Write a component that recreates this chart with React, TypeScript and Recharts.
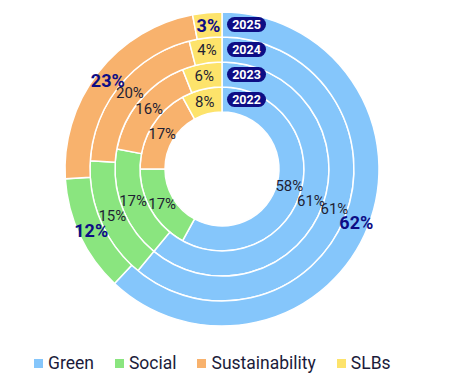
import { PieChart, Pie, Cell, Legend } from "recharts";

const categories = ["Green", "Social", "Sustainability", "SLBs"];
const colors = ["#85c6fb", "#8ae57f", "#f8b26d", "#fde36b"];
const years = ["2022", "2023", "2024", "2025"];
const v2022 = [58, 17, 17, 8];
const v2023 = [61, 17, 16, 6];
const v2024 = [61, 15, 20, 4];
const v2025 = [62, 12, 23, 3];

const series = [v2022, v2023, v2024, v2025];
const NAVY = "#0d0d85";
const RINGS = [[57, 82], [82, 107], [107, 132], [132, 157]];
const RAD = Math.PI / 180;
const FONT = "Roboto, 'Open Sans', sans-serif";

function makeLabel(year: string, bold: boolean) {
  return (p: any) => {
    const { cx, cy, midAngle, innerRadius, outerRadius, value, index } = p;
    const r = (innerRadius + outerRadius) / 2;
    const x = cx + r * Math.cos(-midAngle * RAD);
    const y = cy + r * Math.sin(-midAngle * RAD);
    return (
      <g>
        <text x={x} y={y} textAnchor="middle" dominantBaseline="central"
          fontFamily={FONT} fontSize={bold ? 18 : 15} fontWeight={bold ? 700 : 400}
          fill={bold ? NAVY : "#1f1f33"}>
          {value}%
        </text>
        {index === 0 && (
          <g>
            <rect x={cx + 5} y={cy - r - 7.5} width={39} height={15} rx={7.5} fill={NAVY} />
            <text x={cx + 24.5} y={cy - r} textAnchor="middle" dominantBaseline="central"
              fontFamily={FONT} fontSize={12.5} fontWeight={700} fill="#fff">
              {year}
            </text>
          </g>
        )}
      </g>
    );
  };
}

const renderLegend = () => (
  <div style={{ display: "flex", gap: 21, paddingLeft: 34, fontFamily: FONT, fontSize: 17.5, color: "#1b1b3a" }}>
    {categories.map((c, i) => (
      <div key={c} style={{ display: "flex", alignItems: "center" }}>
        <span style={{ width: 9, height: 9, background: colors[i], display: "inline-block", marginRight: 5 }} />
        <span>{c}</span>
      </div>
    ))}
  </div>
);

export default function App() {
  return (
    <div style={{ width: 450, height: 385, background: "#fff" }}>
      <style>{"body{margin:0}"}</style>
      <PieChart width={450} height={385} margin={{ top: 0, right: 0, bottom: 0, left: 0 }}>
        {series.map((vals, si) => (
          <Pie key={years[si]}
            data={vals.map((v, i) => ({ name: categories[i], value: v }))}
            dataKey="value" nameKey="name"
            cx={222} cy={169}
            innerRadius={RINGS[si][0]} outerRadius={RINGS[si][1]}
            startAngle={90} endAngle={-270}
            stroke="#fff" strokeWidth={1.5}
            label={makeLabel(years[si], si === 3)} labelLine={false}
            isAnimationActive={false}>
            {vals.map((_, i) => <Cell key={i} fill={colors[i]} />)}
          </Pie>
        ))}
        <Legend verticalAlign="bottom" align="left" content={renderLegend}
          wrapperStyle={{ left: 0, top: 353, width: 450 }} />
      </PieChart>
    </div>
  );
}
